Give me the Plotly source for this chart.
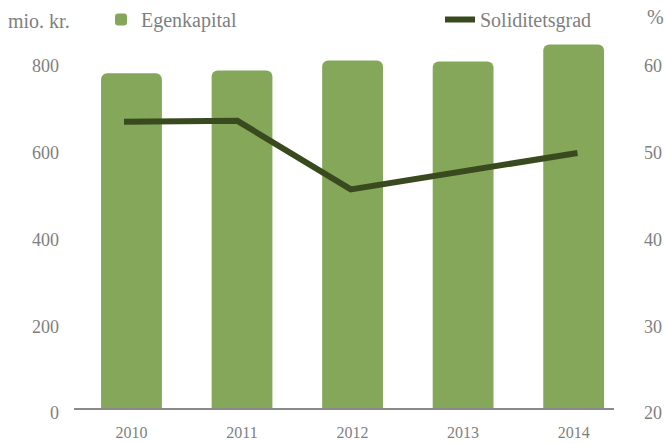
import plotly.graph_objects as go

years = ["2010", "2011", "2012", "2013", "2014"]
egenkapital = [772, 778, 801, 799, 838]
soliditetsgrad = [53.0, 53.1, 45.2, 47.3, 49.4]
left_ticks = [0, 200, 400, 600, 800]
right_ticks = [20, 30, 40, 50, 60]

BAR = "#84a75a"
LINE = "#3a4a1f"
TXT = "#7f7f7f"
FONT = "Liberation Serif, DejaVu Serif, serif"

fig = go.Figure()
fig.add_trace(go.Bar(
    x=list(range(len(years))), y=egenkapital, name="Egenkapital",
    marker=dict(color=BAR, cornerradius=6, line=dict(width=0)),
    width=0.55, legend="legend",
))
fig.add_trace(go.Scatter(
    x=list(range(len(years))), y=soliditetsgrad, name="Soliditetsgrad",
    mode="lines", line=dict(color=LINE, width=6),
    xaxis="x2", yaxis="y2", legend="legend2",
))

fig.update_layout(
    width=665, height=444,
    margin=dict(l=74, r=51, t=40, b=36, autoexpand=False),
    paper_bgcolor="white", plot_bgcolor="white",
    font=dict(family=FONT, size=18, color=TXT),
    xaxis=dict(
        range=[-0.52, 4.365], tickvals=list(range(len(years))), ticktext=years,
        showgrid=False, zeroline=False, showline=True, linecolor="#8a8a8a",
        linewidth=1.5, ticks="", ticklabelstandoff=9, automargin=False,
        tickfont=dict(family=FONT, size=16, color=TXT),
    ),
    xaxis2=dict(
        range=[-0.441, 4.322], overlaying="x", visible=False,
    ),
    yaxis=dict(
        range=[0, 848.4], tickvals=left_ticks, showgrid=False, zeroline=False,
        showline=False, ticks="", ticklabelstandoff=14, ticklabelshift=5,
        automargin=False,
        tickfont=dict(family=FONT, size=18, color=TXT),
    ),
    yaxis2=dict(
        range=[20, 62.42], tickvals=right_ticks, overlaying="y", side="right",
        showgrid=False, zeroline=False, showline=False, ticks="",
        ticklabelstandoff=29, ticklabelshift=5, automargin=False,
        tickfont=dict(family=FONT, size=18, color=TXT),
    ),
    legend=dict(
        orientation="h", xref="container", yref="container",
        x=101 / 665, y=1.0, xanchor="left", yanchor="top",
        font=dict(family=FONT, size=20, color=TXT), bgcolor="rgba(0,0,0,0)",
    ),
    legend2=dict(
        orientation="h", xref="container", yref="container",
        x=440 / 665, y=1.0, xanchor="left", yanchor="top",
        font=dict(family=FONT, size=20, color=TXT), bgcolor="rgba(0,0,0,0)",
    ),
    showlegend=True,
    annotations=[
        dict(text="mio. kr.", xref="paper", yref="paper", x=(6 - 74) / 540,
             y=(408 - 21) / 368, xanchor="left", yanchor="middle",
             showarrow=False, font=dict(family=FONT, size=20, color=TXT)),
        dict(text="%", xref="paper", yref="paper", x=(645 - 74) / 540,
             y=(408 - 17) / 368, xanchor="left", yanchor="middle",
             showarrow=False, font=dict(family=FONT, size=20, color=TXT)),
    ],
)

fig.write_html("out.html")
